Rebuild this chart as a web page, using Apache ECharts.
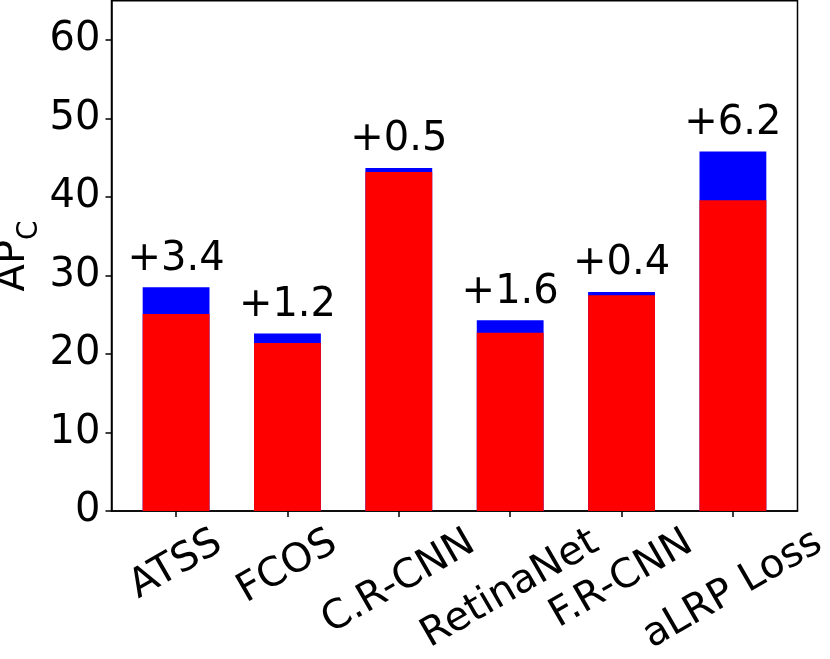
<!DOCTYPE html>
<html><head><meta charset="utf-8">
<script src="https://cdn.jsdelivr.net/npm/echarts@6/dist/echarts.min.js"></script>
<style>html,body{margin:0;padding:0;background:#fff}#c{width:830px;height:659px}</style>
</head><body><div id="c"></div>
<script>
const categories = ['ATSS', 'FCOS', 'C.R-CNN', 'RetinaNet', 'F.R-CNN', 'aLRP Loss'];
const baseAP = [25.1, 21.4, 43.2, 22.7, 27.5, 39.6];
const gainAP = [3.4, 1.2, 0.5, 1.6, 0.4, 6.2];
const yTicks = [0, 10, 20, 30, 40, 50, 60];
const xTicks = [0, 1, 2, 3, 4, 5];

const FONT = 'DejaVu Sans';
const FS = 40;
const ctx = document.createElement('canvas').getContext('2d');
ctx.font = FS + 'px "' + FONT + '"';

const xMin = -0.58, xMax = 5.58;
const lineStyle = { color: '#000', width: 1.5 };

const mainX = {
  type: 'value', position: 'bottom', min: xMin, max: xMax,
  axisLine: { show: true, onZero: false, lineStyle },
  axisTick: { show: true, customValues: xTicks, length: 6, lineStyle },
  axisLabel: { show: false },
  splitLine: { show: false }
};
const labelAxes = categories.map((c, i) => ({
  type: 'value', position: 'bottom', min: xMin, max: xMax,
  axisLine: { show: false, onZero: false }, axisTick: { show: false }, splitLine: { show: false },
  axisLabel: {
    customValues: [xTicks[i]], formatter: () => c, rotate: 30,
    align: 'center', verticalAlign: 'middle',
    margin: 29 + ctx.measureText(c).width * 0.25,
    fontSize: FS, fontFamily: FONT, color: '#000'
  }
}));

const chart = echarts.init(document.getElementById('c'), null, { renderer: 'canvas' });
chart.setOption({
  animation: false,
  backgroundColor: '#fff',
  grid: { left: 111.5, right: 32.5, top: 0.8, bottom: 148, show: true, borderColor: '#000', borderWidth: 1.5, backgroundColor: 'transparent', containLabel: false, outerBoundsMode: 'none' },
  xAxis: [mainX].concat(labelAxes),
  yAxis: {
    type: 'value', position: 'left', min: 0, max: 65, interval: 10,
    axisLine: { show: true, onZero: false, lineStyle },
    axisTick: { show: true, customValues: yTicks, length: 6, lineStyle },
    axisLabel: { customValues: yTicks, fontSize: FS, fontFamily: FONT, color: '#000', margin: 11 },
    splitLine: { show: false },
    name: '{a|AP}{sub|C}', nameLocation: 'middle', nameGap: 68, nameMoveOverlap: false,
    nameTextStyle: {
      rich: {
        a: { fontSize: 40, fontFamily: FONT, lineHeight: 50, verticalAlign: 'top', color: '#000' },
        sub: { fontSize: 28, fontFamily: FONT, lineHeight: 28, verticalAlign: 'bottom', color: '#000' }
      }
    }
  },
  series: [
    {
      type: 'bar', name: 'gain', xAxisIndex: 0,
      data: categories.map((c, i) => [xTicks[i], +(baseAP[i] + gainAP[i]).toFixed(1)]),
      barWidth: '60%', barGap: '-100%',
      itemStyle: { color: '#0000ff' },
      label: {
        show: true, position: 'top', distance: 8,
        formatter: p => '+' + gainAP[p.dataIndex].toFixed(1),
        fontSize: FS, fontFamily: FONT, color: '#000'
      },
      silent: true
    },
    {
      type: 'bar', name: 'base', xAxisIndex: 0,
      data: categories.map((c, i) => [xTicks[i], baseAP[i]]),
      barWidth: '60%', barGap: '-100%',
      itemStyle: { color: '#ff0000' },
      silent: true
    }
  ]
});
</script>
</body></html>
